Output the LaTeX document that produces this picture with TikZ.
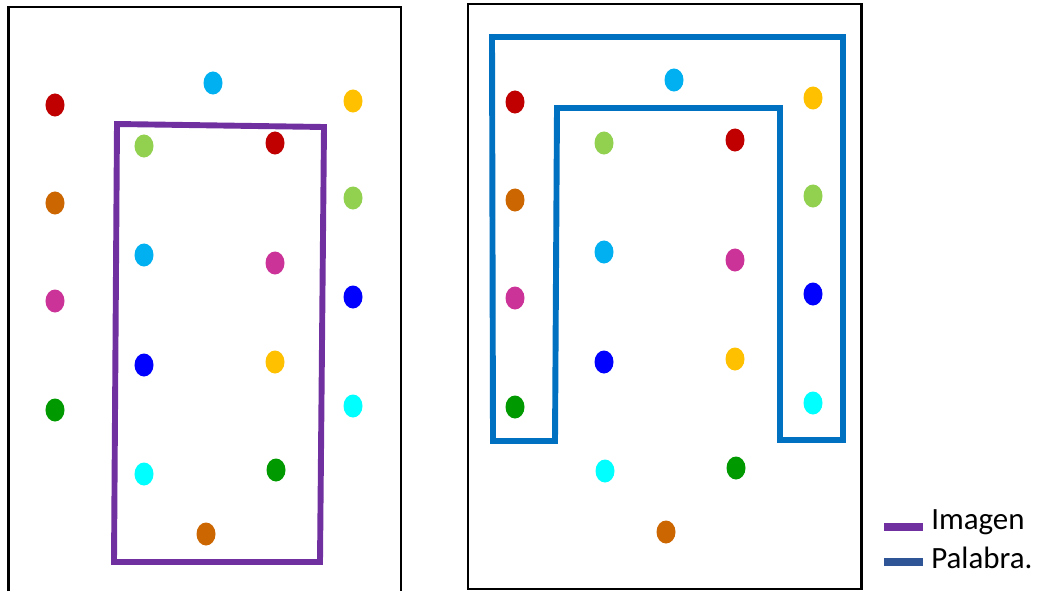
\documentclass[tikz,border=0pt]{standalone}
\usepackage{tikz}
\usetikzlibrary{shapes.geometric,positioning}
\usepackage{fontspec}
\setmainfont{Carlito}
\definecolor{dotred}{HTML}{C00000}
\definecolor{dotorange}{HTML}{CC6600}
\definecolor{dotmagenta}{HTML}{CC3399}
\definecolor{dotgreen}{HTML}{009900}
\definecolor{dotlgreen}{HTML}{92D050}
\definecolor{dotlblue}{HTML}{00B0F0}
\definecolor{dotyellow}{HTML}{FFC000}
\definecolor{dotblue}{HTML}{0000FF}
\definecolor{dotcyan}{HTML}{00FFFF}
\definecolor{imgpurple}{HTML}{7030A0}
\definecolor{palblue}{HTML}{0070C0}
\definecolor{legblue}{HTML}{2F5597}

\begin{document}
\begin{tikzpicture}[x=0.025cm, y=-0.025cm,
  dot/.style={ellipse, inner sep=0pt, minimum width=0.475cm, minimum height=0.575cm},
  panel/.style={draw=black, line width=1.8pt},
  imgline/.style={draw=imgpurple, line width=4.2pt},
  palline/.style={draw=palblue, line width=4.2pt},
  legbar/.style={line width=5pt},
  legtext/.style={anchor=base west, inner sep=0pt, font=\fontsize{22}{26}\selectfont}
]
  \useasboundingbox (0,0) rectangle (1037,591);

  % left panel
  \draw[panel] (8.5,591) -- (8.5,7) -- (401,7) -- (401,591);
  \node[dot, fill=dotred] (l1) at (55,105) {};
  \node[dot, fill=dotlblue] (l2) at (213,83) {};
  \node[dot, fill=dotyellow] (l3) at (353,101) {};
  \node[dot, fill=dotorange] (l4) at (55,203) {};
  \node[dot, fill=dotmagenta] (l5) at (55,301) {};
  \node[dot, fill=dotgreen] (l6) at (55,410) {};
  \node[dot, fill=dotlgreen] (l7) at (144,146) {};
  \node[dot, fill=dotlblue] (l8) at (144,255) {};
  \node[dot, fill=dotblue] (l9) at (144,365) {};
  \node[dot, fill=dotcyan] (l10) at (144,474) {};
  \node[dot, fill=dotred] (l11) at (275,143) {};
  \node[dot, fill=dotmagenta] (l12) at (275,263) {};
  \node[dot, fill=dotyellow] (l13) at (275,362) {};
  \node[dot, fill=dotgreen] (l14) at (276,470) {};
  \node[dot, fill=dotlgreen] (l15) at (353,198) {};
  \node[dot, fill=dotblue] (l16) at (353,297) {};
  \node[dot, fill=dotcyan] (l17) at (353,406) {};
  \node[dot, fill=dotorange] (l18) at (206,534) {};
  \draw[imgline] (117,124) -- (324,127) -- (320,562) -- (114,562) -- cycle;

  % right panel
  \draw[panel] (468,4) rectangle (861.5,589);
  \node[dot, fill=dotred] (r1) at (515,102) {};
  \node[dot, fill=dotlblue] (r2) at (674,80) {};
  \node[dot, fill=dotyellow] (r3) at (813,98) {};
  \node[dot, fill=dotorange] (r4) at (515,200) {};
  \node[dot, fill=dotmagenta] (r5) at (515,298) {};
  \node[dot, fill=dotgreen] (r6) at (515,407) {};
  \node[dot, fill=dotlgreen] (r7) at (604,143) {};
  \node[dot, fill=dotlblue] (r8) at (604,252) {};
  \node[dot, fill=dotblue] (r9) at (604,362) {};
  \node[dot, fill=dotcyan] (r10) at (605,471) {};
  \node[dot, fill=dotred] (r11) at (735,140) {};
  \node[dot, fill=dotmagenta] (r12) at (735,260) {};
  \node[dot, fill=dotyellow] (r13) at (735,359) {};
  \node[dot, fill=dotgreen] (r14) at (736,468) {};
  \node[dot, fill=dotlgreen] (r15) at (813,196) {};
  \node[dot, fill=dotblue] (r16) at (813,294) {};
  \node[dot, fill=dotcyan] (r17) at (813,403) {};
  \node[dot, fill=dotorange] (r18) at (666,532) {};
  \draw[palline] (555,441) -- (493,441) -- (492,37) -- (843,37) -- (843,440)
    -- (780,440) -- (780,108) -- (557,108) -- cycle;

  % legend
  \node[legtext] (imagen) at (931,529) {Imagen};
  \node[legtext] (palabra) at (931,568) {Palabra.};
  \draw[legbar, imgpurple] (884,527) -- (923,527);
  \draw[legbar, legblue] (884,562) -- (923,562);
\end{tikzpicture}
\end{document}
